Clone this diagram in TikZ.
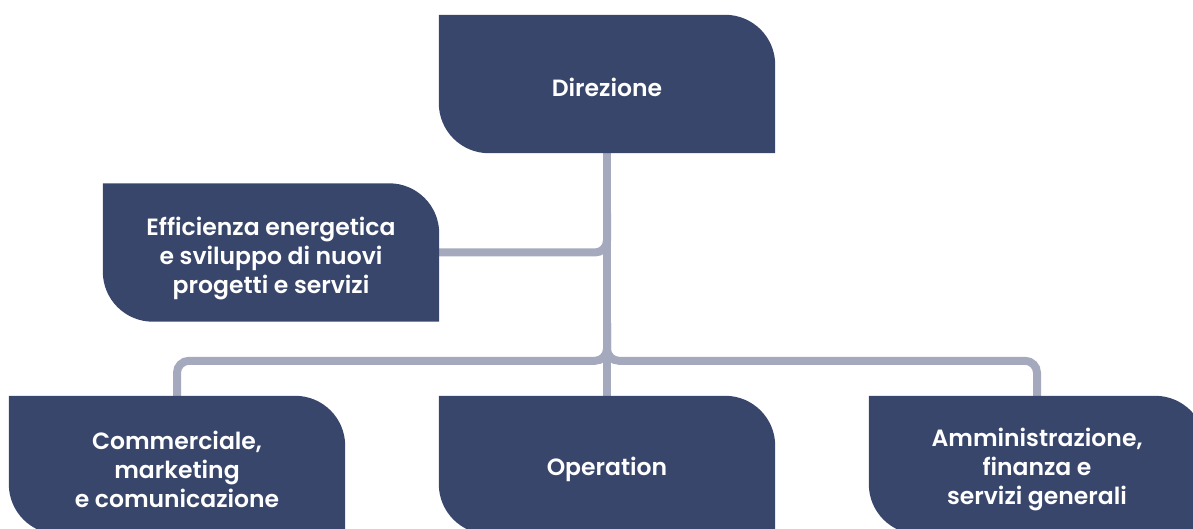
\documentclass[tikz,border=0pt]{standalone}
\usepackage{fontspec}
\setmainfont{Poppins}[UprightFont=* SemiBold]
\usetikzlibrary{backgrounds}
\definecolor{boxcol}{HTML}{39466B}
\definecolor{linecol}{HTML}{A5A9BD}
\newcommand\orgshape[1]{\fill[boxcol] (#1.north west) -- ([xshift=-50pt]#1.north east) arc[start angle=90,end angle=0,radius=50pt] -- (#1.south east) -- ([xshift=50pt]#1.south west) arc[start angle=270,end angle=180,radius=50pt] -- cycle;}
\tikzset{
  orgbox/.style={minimum width=336pt, minimum height=138pt, inner sep=0pt},
  orgtext/.style={inner sep=0pt, text=white, align=center, font=\fontsize{23.5}{29}\selectfont},
  conn/.style={draw=linecol, line width=8pt, rounded corners=12pt}
}
\begin{document}
\begin{tikzpicture}[x=1pt,y=1pt]
\useasboundingbox (0,0) rectangle (1193,528);
\node[orgbox] (dir) at (607,444) {};
\node[orgbox] (eff) at (271,275.5) {};
\node[orgbox] (com) at (177,63) {};
\node[orgbox] (op) at (607,63) {};
\node[orgbox] (amm) at (1037,63) {};
\begin{pgfonlayer}{background}
\draw[conn] (dir.south) -- (op.north);
\draw[conn] ([yshift=-60pt]dir.south) |- (eff.east);
\draw[conn] ([yshift=-170pt]dir.south) |- ([yshift=35pt]com.north) -- (com.north);
\draw[conn] ([yshift=-170pt]dir.south) |- ([yshift=35pt]amm.north) -- (amm.north);
\orgshape{dir}
\orgshape{eff}
\orgshape{com}
\orgshape{op}
\orgshape{amm}
\end{pgfonlayer}
\node[orgtext] (dirt) at ([yshift=-3pt]dir.center) {Direzione};
\node[orgtext] (efft) at ([yshift=-6pt]eff.center) {Efficienza energetica\\e sviluppo di nuovi\\progetti e servizi};
\node[orgtext] (comt) at ([yshift=-4pt]com.center) {Commerciale,\\marketing\\e comunicazione};
\node[orgtext] (opt) at ([yshift=-4pt]op.center) {Operation};
\node[orgtext] (ammt) at ([yshift=-4pt]amm.center) {Amministrazione,\\finanza e\\servizi generali};
\end{tikzpicture}
\end{document}
